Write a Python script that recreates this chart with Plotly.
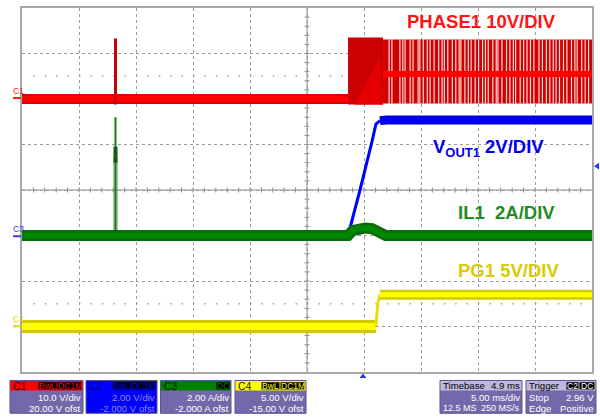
import plotly.graph_objects as go

# ---------------- scope settings ----------------
T_LEFT, T_RIGHT = -29.9, 20.1      # ms, trigger at 0 (delay 4.9 ms, 5 ms/div)
T_CENTER = -4.9
MS_PER_DIV = 5.0

ch_vdiv = {"C1": 10.0, "C2": 2.0, "C3": 2.0, "C4": 5.0}
ch_ofst = {"C1": 20.0, "C2": -2.0, "C3": -2.0, "C4": -15.0}

# ---------------- data ----------------
# C1 PHASE1 (V)
phase_base_t = [-29.9, -1.3]
phase_base_v = [0.0, 0.0]
phase_spike_t = [-21.7, -21.7]
phase_spike_v = [-1.2, 13.3]
phase_burst_t = [-1.3, 1.77]
phase_burst_v = [-1.2, 13.5]
phase_ramp_t = [-0.7, 1.5, 1.77]
phase_ramp_v = [-1.2, 9.2, -1.2]
phase_sw_t = [1.77, 20.1]
phase_sw_v = [-1.0, 13.1]
phase_mid_v = 5.5
phase_gap_t = [2.3, 2.55, 3.25, 3.5, 3.7, 4.15, 4.4, 4.85, 5.0, 5.3, 5.65, 5.9,
               6.25, 6.65, 6.95, 7.15, 7.45, 7.85, 8.15, 8.45, 8.6, 8.95, 9.25,
               9.5, 9.85, 10.15, 10.5, 10.75, 11.0, 11.4, 11.7, 11.85, 12.2,
               12.6, 12.9, 13.2, 13.4, 13.8, 14.1, 14.4, 14.7, 15.0, 15.45,
               15.75, 16.1, 16.4, 16.7, 16.95, 17.25, 17.6, 17.9, 18.3, 18.6,
               18.8, 19.2, 19.5, 19.8]

# C2 VOUT1 (V)
vout_t = [-29.9, -1.3, -0.25, 0.8, 1.15, 1.5, 2.1, 20.1]
vout_v = [0.0, 0.0, 2.0, 4.13, 4.9, 5.05, 5.08, 5.08]

# C3 IL1 (A)
il_t = [-29.9, -1.3, -0.9, -0.5, 0.2, 0.8, 1.2, 1.6, 2.0, 20.1]
il_a = [0.0, 0.0, 0.22, 0.3, 0.33, 0.3, 0.2, 0.08, 0.0, 0.0]
il_spike_t = [-21.7, -21.7]
il_spike_a = [0.0, 5.2]
il_spike_core_a = [3.2, 3.9]
il_spike_glow_a = [0.0, 3.4]

# C4 PG1 (V)
pg_t = [-29.9, 1.15, 1.3, 1.5, 20.1]
pg_v = [0.0, 0.0, 2.5, 3.5, 3.5]

trig_level = 2.96

# info boxes
box_names = ["C1", "C2", "C3", "C4"]
box_line1 = ["10.0 V/div", "2.00 V/div", "2.00 A/div", "5.00 V/div"]
box_line2 = ["20.00 V ofst", "-2.000 V ofst", "-2.000 A ofst", "-15.00 V ofst"]
box_badges = [["BwL", "DC1M"], ["BwL", "DC1M"], ["DC"], ["BwL", "DC1M"]]

# ---------------- helpers ----------------
L, R, T, B = 22, 592, 6, 372
W, H = 600, 419


def px(x):
    return (x - L) / (R - L)


def py(y):
    return (B - y) / (B - T)


def yrange(ch):
    s, o = ch_vdiv[ch], ch_ofst[ch]
    return [-4 * s - o, 4 * s - o]


FONT = "Liberation Sans, Arial, sans-serif"
NARROW = "Liberation Sans Narrow, Arial Narrow, Liberation Sans, sans-serif"
fig = go.Figure()


def line(x, y, color, width, yaxis="y", opacity=1.0):
    fig.add_trace(go.Scatter(x=x, y=y, mode="lines", yaxis=yaxis, opacity=opacity,
                             line=dict(color=color, width=width), hoverinfo="skip",
                             showlegend=False))


def rect(x2, y2, color, yaxis="y"):
    fig.add_trace(go.Scatter(x=[x2[0], x2[1], x2[1], x2[0], x2[0]],
                             y=[y2[0], y2[0], y2[1], y2[1], y2[0]],
                             mode="lines", fill="toself", fillcolor=color,
                             line=dict(width=0, color=color), yaxis=yaxis,
                             hoverinfo="skip", showlegend=False))


# ---- C1 PHASE1 ----
line(phase_base_t, phase_base_v, "#d80000", 10)
line(phase_base_t, phase_base_v, "#ff0000", 6)
line(phase_spike_t, phase_spike_v, "#c80000", 3)
rect(phase_burst_t, phase_burst_v, "#cc0000")
fig.add_trace(go.Scatter(x=phase_ramp_t + phase_ramp_t[:1], y=phase_ramp_v + phase_ramp_v[:1],
                         mode="lines", fill="toself", fillcolor="#e40000",
                         line=dict(width=0, color="#e40000"), hoverinfo="skip", showlegend=False))
rect(phase_sw_t, phase_sw_v, "#d20000")
gx, gy = [], []
for t in phase_gap_t:
    gx += [t, t, None]
    gy += [phase_sw_v[0], phase_sw_v[1], None]
fig.add_trace(go.Scatter(x=gx, y=gy, mode="lines", line=dict(color="white", width=1.2),
                         opacity=0.85, hoverinfo="skip", showlegend=False))
line(phase_sw_t, [phase_mid_v, phase_mid_v], "#ff0000", 6)

# ---- C4 PG1 ----
line(pg_t[:2], pg_v[:2], "#d2c800", 13, "y4")
line(pg_t[:2], pg_v[:2], "#ffff00", 7, "y4")
line(pg_t[1:4], pg_v[1:4], "#e8e000", 3, "y4")
line(pg_t[3:], pg_v[3:], "#d2c800", 10, "y4")
line(pg_t[3:], pg_v[3:], "#ffff00", 5, "y4")

# ---- C3 IL1 ----
line(il_spike_t, il_spike_glow_a, "rgba(60,150,60,0.45)", 5, "y3")
line(il_spike_t, il_spike_a, "#1a7a1a", 2, "y3")
line(il_spike_t, il_spike_core_a, "#0e5e0e", 4, "y3")
line(il_t, il_a, "#0b6a0b", 11, "y3")
line(il_t, il_a, "#008800", 6, "y3")

# ---- C2 VOUT1 ----
line(vout_t[:2], vout_v[:2], "#0000c0", 11, "y2")
line(vout_t[:2], vout_v[:2], "#0000ff", 6, "y2")
line(vout_t[1:6], vout_v[1:6], "#0000ff", 3, "y2")
line(vout_t[5:], vout_v[5:], "#0000d0", 9, "y2")
line(vout_t[5:], vout_v[5:], "#0000ff", 5, "y2")

# ---------------- axes ----------------
axis_common = dict(showgrid=True, griddash="dot", gridcolor="#9c9c9c", gridwidth=1,
                   showticklabels=False, ticks="", zeroline=False, showline=True,
                   linecolor="#a8a8a8", linewidth=2, mirror=True, fixedrange=True)
c1r = yrange("C1")
fig.update_layout(
    width=W, height=H, paper_bgcolor="white", plot_bgcolor="white",
    margin=dict(l=L, r=W - R, t=T, b=H - B),
    xaxis=dict(range=[T_LEFT, T_RIGHT], tick0=T_LEFT, dtick=MS_PER_DIV, **axis_common),
    yaxis=dict(range=c1r, tick0=c1r[0], dtick=ch_vdiv["C1"], **axis_common),
    yaxis2=dict(range=yrange("C2"), overlaying="y", visible=False, fixedrange=True),
    yaxis3=dict(range=yrange("C3"), overlaying="y", visible=False, fixedrange=True),
    yaxis4=dict(range=yrange("C4"), overlaying="y", visible=False, fixedrange=True),
    showlegend=False,
)

shapes = []
c1_center = (c1r[0] + c1r[1]) / 2
# center cross
shapes.append(dict(type="line", xref="x", yref="y", x0=T_CENTER, x1=T_CENTER, y0=c1r[0], y1=c1r[1],
                   line=dict(color="#8c8c8c", width=1), layer="below"))
shapes.append(dict(type="line", xref="x", yref="y", x0=T_LEFT, x1=T_RIGHT, y0=c1_center, y1=c1_center,
                   line=dict(color="#8c8c8c", width=1), layer="below"))
tick_dx = 0.22
tick_dy = 0.55
for k in range(1, 50):
    t = T_LEFT + k * MS_PER_DIV / 5
    shapes.append(dict(type="line", xref="x", yref="y", x0=t, x1=t, y0=c1_center - tick_dy,
                       y1=c1_center + tick_dy, line=dict(color="#8c8c8c", width=1), layer="below"))
for k in range(1, 40):
    v = c1r[0] + k * ch_vdiv["C1"] / 5
    shapes.append(dict(type="line", xref="x", yref="y", x0=T_CENTER - tick_dx, x1=T_CENTER + tick_dx,
                       y0=v, y1=v, line=dict(color="#8c8c8c", width=1), layer="below"))
# dotted marker rows
for v in [5.0, -45.0]:
    shapes.append(dict(type="line", xref="x", yref="y", x0=T_LEFT + 1.0, x1=T_RIGHT, y0=v, y1=v,
                       line=dict(color="#a0a0a0", width=1.5, dash="1.5px,9.9px"), layer="below"))

annotations = []


def text(x, y, s, size, color, xanchor="left", bold=False, family=FONT, yanchor="middle"):
    annotations.append(dict(x=px(x), y=py(y), xref="paper", yref="paper", text=("<b>%s</b>" % s) if bold else s,
                            showarrow=False, xanchor=xanchor, yanchor=yanchor,
                            borderpad=0, xshift=0, yshift=0,
                            font=dict(family=family, size=size, color=color)))


def prect(x0, y0, x1, y1, fill, linecolor=None, lw=0):
    shapes.append(dict(type="rect", xref="paper", yref="paper", x0=px(x0), x1=px(x1), y0=py(y1), y1=py(y0),
                       fillcolor=fill, line=dict(color=linecolor or fill, width=lw), layer="above"))


# channel ground markers on left
for lab, ypix, col in [("C1", 96.5, "#ff2020"), ("C3", 235.5, "#3a3aff"), ("C4", 326, "#e0d800")]:
    text(11.5, ypix - 1.5, lab, 8.5, col, "left", False, NARROW, "bottom")
    shapes.append(dict(type="line", xref="paper", yref="paper", x0=px(13), x1=px(21), y0=py(ypix), y1=py(ypix),
                       line=dict(color=col, width=2)))

# trigger markers
shapes.append(dict(type="path", xref="paper", yref="paper",
                   path="M %f %f L %f %f L %f %f Z" % (px(359.5), py(378), px(366.5), py(378), px(363), py(373.5)),
                   fillcolor="#1a3cff", line=dict(width=0)))
shapes.append(dict(type="path", xref="paper", yref="paper",
                   path="M %f %f L %f %f L %f %f Z" % (px(594), py(165), px(599), py(161.5), px(599), py(168.5)),
                   fillcolor="#1a3cff", line=dict(width=0)))

# main labels
text(481.5, 20, "PHASE1 10V/DIV", 18.5, "#ff1414", "center", True)
text(432, 147, "V<sub>OUT1</sub> 2V/DIV", 18.5, "#0000ee", "left", True)
text(457, 212, "IL1&nbsp; 2A/DIV", 18.5, "#248c24", "left", True)
text(457, 270, "PG1 5V/DIV", 18.5, "#d8cc00", "left", True)

# info boxes
BODY = "#7468aa"
BORDER = "#5c5290"
HDR_LAV = "#bdb8dc"
box_x0 = [10, 86, 160.5, 235]
box_x1 = [83, 157, 231, 306]
hdr_col = ["#ff0000", "#0000ff", "#008000", "#ffff00"]
hdr_txt = ["#3a0000", "#000070", "#001800", "#202000"]
body_col = [BODY, "#0000ff", BODY, BODY]
body_txt = ["white", "#8c8ce8", "white", "white"]
YT, YH, YB = 380.5, 390.5, 413.5
BS = 9.6
for i, name in enumerate(box_names):
    x0, x1 = box_x0[i], box_x1[i]
    prect(x0, YT, x1, YB, body_col[i], BORDER, 1)
    prect(x0 + 0.5, YT + 0.5, x1 - 0.5, YH, hdr_col[i])
    text(x0 + 2, 385.7, name, 10.5, hdr_txt[i], family=NARROW)
    bx = x1 - 1.5
    for b in reversed(box_badges[i]):
        wdt = 6.0 * len(b) if len(b) > 2 else 13
        prect(bx - wdt, YT + 1.8, bx, YH - 1, "black")
        text(bx - wdt / 2, 385.8, b, 8.5, hdr_col[i], "center", family=NARROW)
        bx -= wdt + 1
    text(x1 - 1.5, 397.5, box_line1[i], BS, body_txt[i], "right", family=NARROW)
    text(x1 - 1.5, 408.3, box_line2[i], BS, body_txt[i], "right", family=NARROW)

# timebase box
prect(440, YT, 522, YB, BODY, BORDER, 1)
prect(440.5, YT + 0.5, 521.5, YH, HDR_LAV)
text(442, 385.7, "Timebase", BS, "black", family=NARROW)
text(520.5, 385.7, "4.9 ms", BS, "black", "right", family=NARROW)
text(520.5, 397.5, "5.00 ms/div", BS, "white", "right", family=NARROW)
text(441.5, 408.3, "12.5 MS", 9, "white", family=NARROW)
text(521, 408.3, "250 MS/s", 9, "white", "right", family=NARROW)
# trigger box
prect(526, YT, 596, YB, BODY, BORDER, 1)
prect(526.5, YT + 0.5, 595.5, YH, HDR_LAV)
text(528, 385.7, "Trigger", BS, "black", family=NARROW)
prect(566.5, YT + 1.8, 578.5, YH - 1, "black")
text(572.5, 385.8, "C2", 8.5, "white", "center", family=NARROW)
prect(579.5, YT + 1.8, 594.5, YH - 1, "black")
text(587, 385.8, "DC", 8.5, "white", "center", family=NARROW)
text(528, 397.5, "Stop", BS, "white", family=NARROW)
text(594.5, 397.5, "%.2f V" % trig_level, BS, "white", "right", family=NARROW)
text(528, 408.3, "Edge", BS, "white", family=NARROW)
text(594.5, 408.3, "Positive", BS, "white", "right", family=NARROW)

fig.update_layout(shapes=shapes, annotations=annotations)
fig.write_html("out.html", config={"displayModeBar": False},
               post_script="document.body.style.margin='0';document.body.style.padding='0';")
